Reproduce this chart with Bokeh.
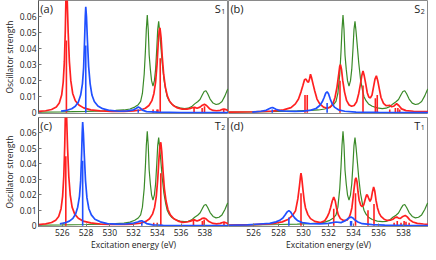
from bokeh.plotting import figure
from bokeh.layouts import gridplot
from bokeh.models import Range1d, FixedTicker, CustomJSTickFormatter, Label
from bokeh.embed import file_html
from bokeh.resources import INLINE

# ---------------- data ----------------
x_ticks = [526, 528, 530, 532, 534, 536, 538]
y_ticks = [0, 0.01, 0.02, 0.03, 0.04, 0.05, 0.06]

green_e = [524.0, 526.0, 528.0, 529.5, 530.5, 531.2, 531.7, 532.1, 532.4, 532.6, 532.75, 532.9,
           533.0, 533.08, 533.16, 533.24, 533.32, 533.42, 533.52, 533.64, 533.76, 533.86, 533.96,
           534.04, 534.12, 534.2, 534.3, 534.42, 534.56, 534.72, 534.84, 535.0, 535.2, 535.5,
           535.9, 536.3, 536.6, 536.9, 537.15, 537.4, 537.6, 537.8, 537.95, 538.1, 538.25, 538.45,
           538.7, 538.95, 539.2, 539.45, 539.7, 539.9, 540.0]
green_f = [0.0003, 0.0005, 0.0008, 0.0011, 0.0014, 0.0017, 0.0023, 0.0035, 0.005, 0.007, 0.012, 0.024,
           0.038, 0.052, 0.061, 0.052, 0.036, 0.027, 0.02, 0.0166, 0.02, 0.027, 0.04,
           0.052, 0.057, 0.051, 0.042, 0.031, 0.021, 0.014, 0.010, 0.0075, 0.0055, 0.004,
           0.003, 0.0026, 0.0028, 0.0038, 0.0055, 0.0068, 0.0082, 0.0112, 0.0132, 0.0137, 0.0118, 0.0085,
           0.006, 0.0051, 0.0055, 0.007, 0.0105, 0.0142, 0.0148]

# (a) S1
red_a_e = [524.0, 524.6, 525.1, 525.5, 525.75, 525.95, 526.08, 526.18, 526.26, 526.32, 526.36, 526.42,
           526.5, 526.6, 526.72, 526.88, 527.1, 527.4, 527.8, 528.4, 529.2, 530.2, 531.2, 532.0, 532.6,
           533.0, 533.3, 533.55, 533.72, 533.86, 533.98, 534.08, 534.16, 534.23, 534.32, 534.42, 534.54,
           534.68, 534.85, 535.05, 535.35, 535.7, 536.1, 536.5, 536.8, 537.0, 537.15, 537.35, 537.6,
           537.8, 537.97, 538.15, 538.4, 538.7, 539.0, 539.3, 539.5, 539.62, 539.78, 540.0]
red_a_f = [0.0008, 0.0012, 0.002, 0.0035, 0.006, 0.011, 0.019, 0.032, 0.052, 0.075, 0.085, 0.07,
           0.05, 0.032, 0.02, 0.012, 0.0075, 0.0048, 0.003, 0.0018, 0.0011, 0.0008, 0.0008, 0.0011, 0.0017,
           0.0028, 0.0045, 0.0075, 0.012, 0.019, 0.03, 0.043, 0.051, 0.053, 0.047, 0.035, 0.024,
           0.016, 0.0105, 0.007, 0.0045, 0.003, 0.0022, 0.0022, 0.0027, 0.0032, 0.0033, 0.0028, 0.0035,
           0.0047, 0.0052, 0.0045, 0.0025, 0.0014, 0.0012, 0.0015, 0.0021, 0.0023, 0.0019, 0.0013]
red_a_stick_e = [526.35, 533.65, 533.98, 534.06, 534.25, 537.1, 537.78, 537.98, 539.6]
red_a_stick_f = [0.045, 0.002, 0.002, 0.002, 0.034, 0.003, 0.003, 0.004, 0.002]

blue_a_e = [525.9, 526.4, 526.8, 527.1, 527.35, 527.55, 527.7, 527.8, 527.88, 527.94, 527.98, 528.04,
            528.12, 528.22, 528.35, 528.5, 528.7, 529.0, 529.4, 530.0, 530.8, 531.5, 532.0, 532.25,
            532.4, 532.55, 532.75, 533.1, 534.0, 536.0, 540.0]
blue_a_f = [0.001, 0.0015, 0.0025, 0.004, 0.0065, 0.011, 0.018, 0.028, 0.045, 0.06, 0.066, 0.06,
            0.045, 0.029, 0.018, 0.011, 0.007, 0.0042, 0.0025, 0.0014, 0.0009, 0.0011, 0.0018, 0.0028,
            0.0036, 0.003, 0.0016, 0.0007, 0.0003, 0.0001, 0.0001]
blue_a_stick_e = [527.98, 532.4]
blue_a_stick_f = [0.042, 0.002]

# (b) S2
red_b_e = [524.0, 526.0, 527.5, 528.4, 529.0, 529.35, 529.6, 529.8, 529.95, 530.08, 530.2, 530.3,
           530.4, 530.48, 530.56, 530.64, 530.76, 530.9, 531.08, 531.3, 531.6, 531.9, 532.15, 532.35,
           532.52, 532.68, 532.8, 532.9, 532.96, 533.04, 533.14, 533.28, 533.45, 533.65, 533.85, 534.05,
           534.25, 534.42, 534.56, 534.66, 534.76, 534.86, 534.98, 535.1, 535.22, 535.35, 535.48, 535.6,
           535.72, 535.83, 535.94, 536.06, 536.2, 536.4, 536.6, 536.78, 536.88, 537.05, 537.25, 537.45,
           537.62, 537.85, 538.2, 538.8, 540.0]
red_b_f = [0.0004, 0.0006, 0.001, 0.0018, 0.0032, 0.0055, 0.0085, 0.013, 0.017, 0.0205, 0.021, 0.0195,
           0.019, 0.021, 0.024, 0.022, 0.018, 0.0135, 0.0085, 0.0055, 0.0035, 0.0028, 0.0035, 0.0055,
           0.0095, 0.016, 0.023, 0.029, 0.030, 0.027, 0.02, 0.013, 0.0075, 0.0048, 0.004, 0.0045,
           0.0068, 0.012, 0.018, 0.023, 0.026, 0.023, 0.018, 0.0125, 0.0098, 0.0092, 0.011, 0.016,
           0.021, 0.023, 0.02, 0.015, 0.0095, 0.0058, 0.0044, 0.0045, 0.0046, 0.0037, 0.0042, 0.0056,
           0.0045, 0.0024, 0.0013, 0.0009, 0.0006]
red_b_stick_e = [530.12, 530.3, 532.92, 534.76, 535.75, 535.9, 536.9, 537.35, 537.55, 537.7]
red_b_stick_f = [0.011, 0.011, 0.02, 0.017, 0.009, 0.011, 0.002, 0.003, 0.003, 0.002]

blue_b_e = [525.9, 526.6, 527.0, 527.25, 527.42, 527.5, 527.6, 527.8, 528.1, 528.6, 529.3, 530.0,
            530.6, 531.0, 531.3, 531.5, 531.65, 531.78, 531.89, 532.0, 532.14, 532.3, 532.5, 532.8,
            533.3, 534.2, 536.0, 540.0]
blue_b_f = [0.0004, 0.0009, 0.0015, 0.0025, 0.0031, 0.0032, 0.003, 0.0022, 0.0013, 0.0009, 0.0008, 0.001,
            0.0016, 0.0026, 0.0045, 0.0068, 0.0095, 0.0122, 0.013, 0.0118, 0.0085, 0.0055, 0.0033, 0.0018,
            0.0009, 0.0004, 0.0002, 0.0001]
blue_b_stick_e = [527.5, 531.89]
blue_b_stick_f = [0.002, 0.006]

# (c) T2
red_c_e = [524.0, 524.6, 525.1, 525.45, 525.7, 525.9, 526.03, 526.13, 526.21, 526.27, 526.31, 526.37,
           526.45, 526.55, 526.67, 526.83, 527.05, 527.35, 527.75, 528.4, 529.2, 530.2, 531.2, 532.0,
           532.6, 533.05, 533.35, 533.6, 533.78, 533.92, 534.04, 534.14, 534.22, 534.3, 534.38, 534.48,
           534.6, 534.74, 534.9, 535.1, 535.4, 535.75, 536.15, 536.5, 536.8, 537.0, 537.12, 537.35,
           537.6, 537.8, 537.93, 538.1, 538.35, 538.7, 539.0, 539.3, 539.5, 539.62, 539.78, 540.0]
red_c_f = [0.0008, 0.0012, 0.0021, 0.0036, 0.006, 0.011, 0.019, 0.032, 0.052, 0.075, 0.085, 0.07,
           0.05, 0.032, 0.02, 0.012, 0.0075, 0.0048, 0.003, 0.0018, 0.0011, 0.0008, 0.0008, 0.0011,
           0.0017, 0.0028, 0.0045, 0.0075, 0.012, 0.019, 0.03, 0.043, 0.051, 0.054, 0.048, 0.036,
           0.024, 0.016, 0.0105, 0.007, 0.0045, 0.003, 0.0022, 0.0024, 0.003, 0.0036, 0.0038, 0.003,
           0.0038, 0.0048, 0.005, 0.0045, 0.0027, 0.0015, 0.0012, 0.0015, 0.0021, 0.0023, 0.0019, 0.0013]
red_c_stick_e = [526.3, 533.7, 534.0, 534.3, 537.05, 537.8, 537.95, 539.62]
red_c_stick_f = [0.045, 0.002, 0.002, 0.034, 0.004, 0.003, 0.004, 0.002]

blue_c_e = [525.8, 526.2, 526.6, 526.9, 527.12, 527.3, 527.45, 527.55, 527.63, 527.68, 527.72, 527.78,
            527.86, 527.96, 528.08, 528.24, 528.45, 528.75, 529.2, 529.8, 530.6, 531.4, 532.0, 532.35,
            532.55, 532.7, 532.85, 533.1, 533.6, 534.5, 536.0, 540.0]
blue_c_f = [0.0012, 0.0018, 0.003, 0.0048, 0.0075, 0.012, 0.019, 0.029, 0.046, 0.06, 0.067, 0.06,
            0.045, 0.029, 0.018, 0.011, 0.007, 0.0042, 0.0025, 0.0014, 0.001, 0.0012, 0.0017, 0.0024,
            0.003, 0.0032, 0.0026, 0.0014, 0.0006, 0.0003, 0.0001, 0.0001]
blue_c_stick_e = [527.72, 532.7]
blue_c_stick_f = [0.042, 0.002]

# (d) T1
red_d_e = [524.0, 526.0, 527.5, 528.3, 528.8, 529.1, 529.36, 529.55, 529.68, 529.76, 529.8, 529.86,
           529.96, 530.06, 530.16, 530.35, 530.56, 530.9, 531.36, 531.7, 531.89, 532.05, 532.16, 532.3,
           532.42, 532.54, 532.64, 532.78, 532.95, 533.2, 533.48, 533.65, 533.75, 533.87, 533.96, 534.06,
           534.14, 534.2, 534.28, 534.36, 534.45, 534.58, 534.7, 534.82, 534.95, 535.04, 535.1, 535.2,
           535.32, 535.42, 535.52, 535.61, 535.7, 535.8, 535.92, 536.05, 536.2, 536.45, 536.7, 536.95,
           537.15, 537.35, 537.47, 537.6, 537.75, 537.95, 538.14, 538.3, 538.5, 538.75, 539.1, 539.6, 540.0]
red_d_f = [0.0004, 0.0007, 0.0014, 0.0025, 0.0042, 0.0065, 0.0096, 0.0175, 0.026, 0.032, 0.034, 0.031,
           0.023, 0.016, 0.0115, 0.0072, 0.0046, 0.0028, 0.002, 0.0032, 0.0056, 0.0085, 0.0115, 0.016,
           0.0186, 0.016, 0.0115, 0.0072, 0.0046, 0.0034, 0.0036, 0.0055, 0.0075, 0.0115, 0.0175, 0.025,
           0.03, 0.031, 0.0285, 0.022, 0.0165, 0.0132, 0.0124, 0.0135, 0.0175, 0.0198, 0.02, 0.018,
           0.0157, 0.0175, 0.022, 0.025, 0.0225, 0.0165, 0.0115, 0.0082, 0.006, 0.0042, 0.0034, 0.0036,
           0.0042, 0.0054, 0.0056, 0.0049, 0.0047, 0.006, 0.0066, 0.0057, 0.0038, 0.0024, 0.0015, 0.0011, 0.0009]
red_d_stick_e = [529.8, 532.42, 534.16, 535.16, 535.64, 537.25, 537.5, 537.8, 538.05, 538.2, 538.45]
red_d_stick_f = [0.021, 0.011, 0.021, 0.010, 0.014, 0.002, 0.003, 0.002, 0.003, 0.0025, 0.002]

blue_d_e = [524.0, 525.5, 526.5, 527.3, 527.8, 528.1, 528.35, 528.55, 528.7, 528.83, 528.96, 529.1,
            529.3, 529.55, 529.9, 530.5, 531.3, 532.0, 532.6, 533.0, 533.3, 533.55, 533.7, 533.8,
            533.92, 534.1, 534.35, 534.7, 535.5, 536.5, 538.0, 540.0]
blue_d_f = [0.0003, 0.0006, 0.0011, 0.0015, 0.0025, 0.0035, 0.005, 0.0072, 0.009, 0.0098, 0.009, 0.0072,
            0.005, 0.0032, 0.002, 0.0014, 0.0012, 0.0015, 0.0024, 0.002, 0.003, 0.0045, 0.0054, 0.0056,
            0.0052, 0.0038, 0.0024, 0.0013, 0.0007, 0.0004, 0.0002, 0.0001]
blue_d_stick_e = [528.83, 533.77, 533.84]
blue_d_stick_f = [0.0054, 0.003, 0.003]

panel_tags = ["(a)", "(b)", "(c)", "(d)"]
state_letters = ["S", "S", "T", "T"]
state_numbers = ["1", "2", "2", "1"]

# ---------------- style ----------------
RED = "#ff2020"
BLUE = "#2050ff"
GREEN = "#3a8a28"
FONT = "Open Sans"
TXT = "#222222"

formatter = CustomJSTickFormatter(code="return tick == 0 ? '0' : tick.toFixed(2);")


def make_panel(width, height, left_labels, bottom_labels, bottom_pad, tag, letter, number,
               red_e, red_f, red_se, red_sf, blue_e, blue_f, blue_se, blue_sf):
    p = figure(width=width, height=height, output_backend="svg", toolbar_location=None,
               x_range=Range1d(524, 540), y_range=Range1d(-0.0005, 0.07),
               x_axis_location="below" if bottom_labels else None,
               y_axis_location="left" if left_labels else None, min_border=0,
               min_border_left=0, min_border_right=0, min_border_top=0,
               min_border_bottom=bottom_pad)
    p.background_fill_color = "white"
    p.border_fill_color = "white"
    p.grid.visible = False
    p.outline_line_color = "#8a8a8a"
    p.outline_line_width = 1

    if left_labels:
        ya = p.yaxis[0]
        ya.ticker = FixedTicker(ticks=y_ticks)
        ya.major_tick_in = 3
        ya.major_tick_out = 0
        ya.minor_tick_line_color = None
        ya.axis_line_color = "#555555"
        ya.major_tick_line_color = "#777777"
        ya.formatter = formatter
        ya.major_label_text_font = FONT
        ya.major_label_text_font_size = "8.5px"
        ya.major_label_text_color = TXT
        ya.major_label_standoff = 2
        ya.axis_label = "Oscillator strength"
        ya.axis_label_text_font = FONT
        ya.axis_label_text_font_size = "8.5px"
        ya.axis_label_text_font_style = "normal"
        ya.axis_label_text_color = TXT
        ya.axis_label_standoff = 2

    if bottom_labels:
        xa = p.xaxis[0]
        xa.ticker = FixedTicker(ticks=x_ticks)
        xa.major_tick_in = 3
        xa.major_tick_out = 0
        xa.minor_tick_line_color = None
        xa.axis_line_color = "#888888"
        xa.major_tick_line_color = "#777777"
        xa.major_label_text_font = FONT
        xa.major_label_text_font_size = "8.5px"
        xa.major_label_text_color = TXT
        xa.major_label_standoff = 2
        xa.axis_label = "Excitation energy (eV)"
        xa.axis_label_text_font = FONT
        xa.axis_label_text_font_size = "8.5px"
        xa.axis_label_text_font_style = "normal"
        xa.axis_label_text_color = TXT
        xa.axis_label_standoff = 0

    # spectra
    p.line(green_e, green_f, line_color=GREEN, line_width=1.2)
    p.segment(x0=red_se, y0=[0] * len(red_se), x1=red_se, y1=red_sf, line_color=RED, line_width=1.6)
    p.line(red_e, red_f, line_color=RED, line_width=1.7)
    p.segment(x0=blue_se, y0=[0] * len(blue_se), x1=blue_se, y1=blue_sf, line_color=BLUE, line_width=1.6)
    p.line(blue_e, blue_f, line_color=BLUE, line_width=1.7)

    p.add_layout(Label(x=524.15, y=0.0698, text=tag, text_font=FONT, text_font_size="11px",
                       text_color=TXT, text_baseline="top", text_align="left"))
    p.add_layout(Label(x=539.35, y=0.0698, text=letter, text_font=FONT, text_font_size="11px",
                       text_color=TXT, text_baseline="top", text_align="right"))
    p.add_layout(Label(x=539.38, y=0.0650, text=number, text_font=FONT, text_font_size="7px",
                       text_color=TXT, text_baseline="top", text_align="left"))
    return p


LW, RW = 228, 200
TH, BH = 117, 135

pa = make_panel(LW, TH, True, False, 4, panel_tags[0], state_letters[0], state_numbers[0],
                red_a_e, red_a_f, red_a_stick_e, red_a_stick_f,
                blue_a_e, blue_a_f, blue_a_stick_e, blue_a_stick_f)
pb = make_panel(RW, TH, False, False, 4, panel_tags[1], state_letters[1], state_numbers[1],
                red_b_e, red_b_f, red_b_stick_e, red_b_stick_f,
                blue_b_e, blue_b_f, blue_b_stick_e, blue_b_stick_f)
pc = make_panel(LW, BH, True, True, 0, panel_tags[2], state_letters[2], state_numbers[2],
                red_c_e, red_c_f, red_c_stick_e, red_c_stick_f,
                blue_c_e, blue_c_f, blue_c_stick_e, blue_c_stick_f)
pd = make_panel(RW, BH, False, True, 0, panel_tags[3], state_letters[3], state_numbers[3],
                red_d_e, red_d_f, red_d_stick_e, red_d_stick_f,
                blue_d_e, blue_d_f, blue_d_stick_e, blue_d_stick_f)

grid = gridplot([[pa, pb], [pc, pd]], toolbar_location=None)

with open("out.html", "w") as f:
    f.write(file_html(grid, INLINE))
